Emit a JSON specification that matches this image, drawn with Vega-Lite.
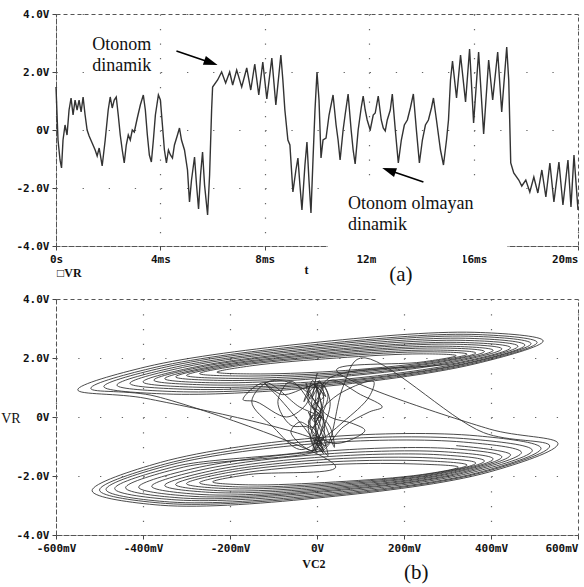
{
"$schema": "https://vega.github.io/schema/vega-lite/v6.json",
"background": "white",
"padding": {"left": 0, "top": 7, "right": 0, "bottom": 0},
"bounds": "flush",
"spacing": 53,
"config": {
  "view": {"stroke": "#555", "strokeDash": [4, 3], "strokeWidth": 1},
  "axis": {
    "labelFont": "DejaVu Sans Mono", "labelFontWeight": "bold", "labelFontSize": 11, "labelColor": "#111",
    "domainColor": "#555", "domainDash": [4, 3], "tickColor": "#444", "tickSize": 4, "labelPadding": 3,
    "grid": true, "gridColor": "#666", "gridWidth": 1.2, "labelOverlap": false, "title": null
  }
},
"datasets": {
  "vr": [
{"t":0,"v":1.483},{"t":0.077,"v":-0.345},{"t":0.154,"v":-1.034},{"t":0.212,"v":-1.31},{"t":0.269,"v":-0.345},{"t":0.346,"v":0.172},{"t":0.423,"v":-0.172},{"t":0.5,"v":0.69},{"t":0.577,"v":1.103},{"t":0.654,"v":0.517},{"t":0.731,"v":1.034},{"t":0.808,"v":0.69},{"t":0.885,"v":1.034},{"t":0.962,"v":0.621},{"t":1.038,"v":1.138},{"t":1.115,"v":0.517},{"t":1.192,"v":0},{"t":1.269,"v":-0.207},{"t":1.385,"v":-0.448},{"t":1.5,"v":-0.69},{"t":1.577,"v":-0.897},{"t":1.654,"v":-0.621},{"t":1.769,"v":-1.241},{"t":1.885,"v":-0.345},{"t":2.0,"v":0.69},{"t":2.077,"v":1.138},{"t":2.154,"v":0.759},{"t":2.231,"v":1.034},{"t":2.308,"v":1.138},{"t":2.385,"v":0.517},{"t":2.462,"v":-0.172},{"t":2.538,"v":-0.69},{"t":2.615,"v":-1.138},{"t":2.692,"v":-0.517},{"t":2.769,"v":-0.172},{"t":2.846,"v":-0.345},{"t":2.923,"v":0},{"t":3.0,"v":-0.069},{"t":3.115,"v":0.414},{"t":3.231,"v":0.862},{"t":3.346,"v":1.207},{"t":3.423,"v":0.69},{"t":3.5,"v":-0.172},{"t":3.577,"v":-0.862},{"t":3.654,"v":-1.103},{"t":3.731,"v":-0.345},{"t":3.808,"v":0.517},{"t":3.923,"v":1.207},{"t":4.0,"v":1.034},{"t":4.077,"v":0.172},{"t":4.154,"v":-0.69},{"t":4.231,"v":-1.138},{"t":4.308,"v":-0.69},{"t":4.385,"v":-0.862},{"t":4.462,"v":-0.966},{"t":4.538,"v":-0.517},{"t":4.654,"v":-0.172},{"t":4.731,"v":0.069},{"t":4.808,"v":-0.345},{"t":4.923,"v":-0.69},{"t":5.038,"v":-1.379},{"t":5.115,"v":-2.483},{"t":5.192,"v":-1.724},{"t":5.308,"v":-0.931},{"t":5.385,"v":-1.897},{"t":5.462,"v":-2.724},{"t":5.538,"v":-1.552},{"t":5.615,"v":-0.759},{"t":5.692,"v":-1.897},{"t":5.808,"v":-2.931},{"t":5.885,"v":-1.552},{"t":5.962,"v":0.69},{"t":6.0,"v":1.483},{"t":6.192,"v":1.724},{"t":6.346,"v":2.0},{"t":6.5,"v":1.621},{"t":6.654,"v":2.0},{"t":6.769,"v":1.552},{"t":6.923,"v":2.069},{"t":7.115,"v":1.483},{"t":7.308,"v":2.138},{"t":7.462,"v":1.379},{"t":7.615,"v":2.276},{"t":7.769,"v":1.207},{"t":7.923,"v":2.345},{"t":8.077,"v":1.069},{"t":8.269,"v":2.483},{"t":8.423,"v":0.862},{"t":8.615,"v":2.586},{"t":8.692,"v":1.724},{"t":8.769,"v":0.69},{"t":8.885,"v":-0.345},{"t":8.962,"v":-0.517},{"t":9.077,"v":-2.138},{"t":9.192,"v":-1.379},{"t":9.269,"v":-0.966},{"t":9.346,"v":-1.897},{"t":9.423,"v":-2.759},{"t":9.538,"v":-1.207},{"t":9.615,"v":-0.414},{"t":9.692,"v":-1.724},{"t":9.769,"v":-2.862},{"t":9.846,"v":-1.034},{"t":9.923,"v":0.69},{"t":10.0,"v":2.0},{"t":10.077,"v":1.034},{"t":10.154,"v":-0.966},{"t":10.231,"v":-0.345},{"t":10.346,"v":-0.276},{"t":10.462,"v":0.517},{"t":10.615,"v":1.207},{"t":10.731,"v":0.172},{"t":10.808,"v":-0.345},{"t":10.885,"v":-1.034},{"t":11.0,"v":0},{"t":11.077,"v":0.517},{"t":11.192,"v":1.241},{"t":11.308,"v":0},{"t":11.385,"v":-0.69},{"t":11.462,"v":-1.172},{"t":11.577,"v":0},{"t":11.692,"v":0.759},{"t":11.769,"v":1.172},{"t":11.846,"v":0.69},{"t":11.923,"v":0.345},{"t":12.038,"v":0},{"t":12.154,"v":0.517},{"t":12.231,"v":0.586},{"t":12.346,"v":1.172},{"t":12.462,"v":0.345},{"t":12.538,"v":0.069},{"t":12.615,"v":-0.034},{"t":12.692,"v":0.345},{"t":12.808,"v":0.69},{"t":12.885,"v":1.241},{"t":13.0,"v":0},{"t":13.115,"v":-1.138},{"t":13.231,"v":-0.345},{"t":13.346,"v":0.172},{"t":13.462,"v":0.345},{"t":13.577,"v":0.759},{"t":13.692,"v":1.241},{"t":13.808,"v":0},{"t":13.923,"v":-1.138},{"t":14.038,"v":-0.345},{"t":14.154,"v":0.172},{"t":14.269,"v":0.345},{"t":14.385,"v":0.759},{"t":14.462,"v":1.103},{"t":14.577,"v":0.345},{"t":14.731,"v":-0.69},{"t":14.846,"v":-1.207},{"t":14.962,"v":-0.345},{"t":15.038,"v":0.345},{"t":15.115,"v":1.724},{"t":15.192,"v":2.379},{"t":15.346,"v":1.103},{"t":15.5,"v":2.586},{"t":15.692,"v":0.966},{"t":15.846,"v":2.793},{"t":16.0,"v":0.241},{"t":16.192,"v":2.69},{"t":16.385,"v":-0.138},{"t":16.577,"v":2.414},{"t":16.731,"v":1.034},{"t":16.923,"v":2.69},{"t":17.077,"v":0.621},{"t":17.269,"v":2.862},{"t":17.346,"v":1.724},{"t":17.423,"v":-1.138},{"t":17.538,"v":-1.483},{"t":17.731,"v":-1.724},{"t":17.846,"v":-1.931},{"t":18.0,"v":-1.724},{"t":18.154,"v":-2.138},{"t":18.308,"v":-1.621},{"t":18.462,"v":-2.172},{"t":18.615,"v":-1.379},{"t":18.769,"v":-2.31},{"t":18.923,"v":-1.138},{"t":19.077,"v":-2.483},{"t":19.269,"v":-1.103},{"t":19.423,"v":-2.586},{"t":19.615,"v":-1.034},{"t":19.731,"v":-2.655},{"t":19.846,"v":-0.862},{"t":20.0,"v":-2.759}
  ],
  "ph": [
{"c":0,"r":1.48},{"c":-15,"r":-0.35},{"c":10,"r":-1.03},{"c":25,"r":-1.31},{"c":5,"r":-0.35},{"c":-20,"r":0.17},{"c":-5,"r":-0.17},{"c":15,"r":0.69},{"c":-10,"r":1.1},{"c":-30,"r":0.52},{"c":-5,"r":1.03},{"c":20,"r":0.69},{"c":5,"r":1.03},{"c":-15,"r":0.62},{"c":-25,"r":1.14},{"c":-5,"r":0.52},{"c":30,"r":0},{"c":80,"r":-0.21},{"c":110,"r":-0.45},{"c":90,"r":-0.69},{"c":40,"r":-0.9},{"c":-10,"r":-0.62},{"c":15,"r":-1.24},{"c":-30,"r":-0.35},{"c":-90,"r":0.69},{"c":-120,"r":1.14},{"c":-80,"r":0.76},{"c":-20,"r":1.03},{"c":10,"r":1.14},{"c":30,"r":0.52},{"c":20,"r":-0.17},{"c":5,"r":-0.69},{"c":-10,"r":-1.14},{"c":-60,"r":-0.52},{"c":-40,"r":-0.17},{"c":-10,"r":-0.35},{"c":10,"r":0},{"c":-5,"r":-0.07},{"c":20,"r":0.41},{"c":60,"r":0.86},{"c":130,"r":1.21},{"c":120,"r":0.69},{"c":60,"r":-0.17},{"c":0,"r":-0.86},{"c":-40,"r":-1.1},{"c":-100,"r":-0.35},{"c":-150,"r":0.52},{"c":-110,"r":1.21},{"c":-40,"r":1.03},{"c":10,"r":0.17},{"c":15,"r":-0.69},{"c":-5,"r":-1.14},{"c":12,"r":-0.69},{"c":-8,"r":-0.86},{"c":10,"r":-0.97},{"c":0,"r":-0.52},{"c":-20,"r":-0.17},{"c":-5,"r":0.07},{"c":10,"r":-0.35},{"c":20,"r":-0.69},
{"c":15,"r":-1.06},{"c":-307,"r":-1.7},{"c":-440,"r":-2.4},{"c":-307,"r":-2.75},{"c":15,"r":-2.54},{"c":337,"r":-1.9},{"c":470,"r":-1.2},{"c":337,"r":-0.85},
{"c":15,"r":-0.88},{"c":-339,"r":-1.63},{"c":-485,"r":-2.46},{"c":-339,"r":-2.88},{"c":15,"r":-2.64},{"c":369,"r":-1.89},{"c":515,"r":-1.06},{"c":369,"r":-0.64},
{"c":19,"r":-0.68},{"c":-360,"r":-1.54},{"c":-517,"r":-2.5},{"c":-360,"r":-2.99},{"c":19,"r":-2.72},{"c":397,"r":-1.86},{"c":554,"r":-0.9},{"c":397,"r":-0.41},
{"c":45,"r":1.6},{"c":239,"r":1.86},{"c":320,"r":2.08},{"c":239,"r":2.14},{"c":45,"r":2.0},{"c":-149,"r":1.74},{"c":-230,"r":1.52},{"c":-149,"r":1.46},
{"c":38,"r":1.55},{"c":255,"r":1.86},{"c":345,"r":2.13},{"c":255,"r":2.21},{"c":38,"r":2.05},{"c":-180,"r":1.74},{"c":-270,"r":1.47},{"c":-180,"r":1.39},
{"c":33,"r":1.49},{"c":268,"r":1.85},{"c":365,"r":2.17},{"c":268,"r":2.27},{"c":33,"r":2.09},{"c":-203,"r":1.73},{"c":-300,"r":1.41},{"c":-203,"r":1.31},
{"c":30,"r":1.44},{"c":281,"r":1.85},{"c":385,"r":2.22},{"c":281,"r":2.34},{"c":30,"r":2.14},{"c":-221,"r":1.73},{"c":-325,"r":1.36},{"c":-221,"r":1.24},
{"c":28,"r":1.38},{"c":294,"r":1.84},{"c":405,"r":2.26},{"c":294,"r":2.4},{"c":28,"r":2.18},{"c":-239,"r":1.72},{"c":-350,"r":1.3},{"c":-239,"r":1.16},
{"c":25,"r":1.33},{"c":308,"r":1.84},{"c":425,"r":2.31},{"c":308,"r":2.47},{"c":25,"r":2.23},{"c":-258,"r":1.72},{"c":-375,"r":1.25},{"c":-258,"r":1.09},
{"c":16,"r":1.22},{"c":331,"r":1.83},{"c":462,"r":2.4},{"c":331,"r":2.6},{"c":16,"r":2.32},{"c":-299,"r":1.71},{"c":-430,"r":1.14},{"c":-299,"r":0.94},
{"c":1,"r":1.11},{"c":348,"r":1.82},{"c":492,"r":2.49},{"c":348,"r":2.74},{"c":1,"r":2.41},{"c":-346,"r":1.7},{"c":-490,"r":1.03},{"c":-346,"r":0.78},
{"c":-15,"r":0.99},{"c":363,"r":1.8},{"c":520,"r":2.58},{"c":363,"r":2.87},{"c":-15,"r":2.51},{"c":-393,"r":1.7},{"c":-550,"r":0.92},{"c":-393,"r":0.63},
{"c":15,"r":-0.97},{"c":-324,"r":-1.67},{"c":-465,"r":-2.43},{"c":-324,"r":-2.81},{"c":15,"r":-2.59},{"c":354,"r":-1.89},{"c":495,"r":-1.13},{"c":354,"r":-0.75},
{"c":18,"r":-0.78},{"c":-348,"r":-1.59},{"c":-500,"r":-2.48},{"c":-348,"r":-2.93},{"c":18,"r":-2.68},{"c":383,"r":-1.87},{"c":535,"r":-0.98},{"c":383,"r":-0.53},
{"c":100,"r":2.0},{"c":60,"r":1.03},{"c":20,"r":-0.97},{"c":-20,"r":-0.35},{"c":-60,"r":-0.28},{"c":-90,"r":0.52},{"c":-60,"r":1.21},{"c":0,"r":0.17},{"c":30,"r":-0.34},{"c":40,"r":-1.03},{"c":10,"r":0},{"c":-20,"r":0.52},{"c":-10,"r":1.24},{"c":15,"r":0},{"c":5,"r":-0.69},{"c":-10,"r":-1.17},{"c":10,"r":0},{"c":25,"r":0.76},{"c":5,"r":1.17},{"c":-15,"r":0.69},{"c":-30,"r":0.34},{"c":-70,"r":0},{"c":-140,"r":0.52},{"c":-170,"r":0.59},{"c":-120,"r":1.17},{"c":-40,"r":0.34},{"c":0,"r":0.07},{"c":10,"r":-0.03},{"c":-10,"r":0.34},{"c":15,"r":0.69},{"c":5,"r":1.24},{"c":-5,"r":0},{"c":10,"r":-1.14},{"c":60,"r":-0.34},{"c":120,"r":0.17},{"c":150,"r":0.34},{"c":100,"r":0.76},{"c":30,"r":1.24},{"c":-5,"r":0},{"c":15,"r":-1.14},{"c":-5,"r":-0.34},{"c":8,"r":0.17},{"c":-10,"r":0.34},{"c":5,"r":0.76},{"c":-5,"r":1.1},{"c":10,"r":0.34},{"c":-15,"r":-0.69},{"c":0,"r":-1.21},{"c":-20,"r":-0.34},{"c":0,"r":0.34},
{"c":23,"r":1.27},{"c":321,"r":1.83},{"c":445,"r":2.35},{"c":321,"r":2.53},{"c":23,"r":2.27},{"c":-276,"r":1.71},{"c":-400,"r":1.19},{"c":-276,"r":1.01},
{"c":9,"r":1.16},{"c":341,"r":1.82},{"c":478,"r":2.44},{"c":341,"r":2.67},{"c":9,"r":2.36},{"c":-323,"r":1.7},{"c":-460,"r":1.08},{"c":-323,"r":0.86},
{"c":-7,"r":1.05},{"c":356,"r":1.81},{"c":506,"r":2.53},{"c":356,"r":2.8},{"c":-7,"r":2.45},{"c":-370,"r":1.69},{"c":-520,"r":0.97},{"c":-370,"r":0.7},
{"c":43,"r":-1.7},{"c":-157,"r":-1.95},{"c":-240,"r":-2.2},{"c":-157,"r":-2.3},{"c":43,"r":-2.2},{"c":242,"r":-1.95},{"c":325,"r":-1.7},{"c":242,"r":-1.6},
{"c":38,"r":-1.61},{"c":-180,"r":-1.92},{"c":-270,"r":-2.23},{"c":-180,"r":-2.37},{"c":38,"r":-2.25},{"c":255,"r":-1.94},{"c":345,"r":-1.63},{"c":255,"r":-1.49},
{"c":33,"r":-1.52},{"c":-203,"r":-1.88},{"c":-300,"r":-2.26},{"c":-203,"r":-2.43},{"c":33,"r":-2.3},{"c":268,"r":-1.94},{"c":365,"r":-1.56},{"c":268,"r":-1.39},
{"c":30,"r":-1.43},{"c":-221,"r":-1.85},{"c":-325,"r":-2.29},{"c":-221,"r":-2.5},{"c":30,"r":-2.35},{"c":281,"r":-1.93},{"c":385,"r":-1.49},{"c":281,"r":-1.28},
{"c":28,"r":-1.34},{"c":-239,"r":-1.81},{"c":-350,"r":-2.32},{"c":-239,"r":-2.56},{"c":28,"r":-2.4},{"c":294,"r":-1.93},{"c":405,"r":-1.42},{"c":294,"r":-1.18},
{"c":23,"r":-1.25},{"c":-262,"r":-1.78},{"c":-380,"r":-2.35},{"c":-262,"r":-2.63},{"c":23,"r":-2.45},{"c":307,"r":-1.92},{"c":425,"r":-1.35},{"c":307,"r":-1.07},
{"c":18,"r":-1.16},{"c":-285,"r":-1.75},{"c":-410,"r":-2.38},{"c":-285,"r":-2.69},{"c":18,"r":-2.5},{"c":320,"r":-1.92},{"c":445,"r":-1.28},{"c":320,"r":-0.97}
  ]
},
"vconcat": [
  {
    "width": 522, "height": 232,
    "layer": [
      {
        "data": {"name": "vr"},
        "mark": {"type": "line", "color": "#333", "strokeWidth": 1.4},
        "encoding": {
          "x": {"field": "t", "type": "quantitative", "scale": {"domain": [0, 20], "nice": false, "zero": false},
            "axis": {"values": [0, 4, 8, 12, 16, 20], "labelExpr": "datum.value == 0 ? '0s' : datum.value + 'ms'",
              "labelAlign": {"condition": {"test": "datum.value == 20", "value": "right"}, "value": "center"},
              "gridDash": [1.3, 13.2]}},
          "y": {"field": "v", "type": "quantitative", "scale": {"domain": [-4, 4], "nice": false, "zero": false},
            "axis": {"values": [-4, -2, 0, 2, 4], "labelExpr": "datum.value == 0 ? '0V' : (datum.value < 0 ? '-' : '') + format(abs(datum.value), '.1f') + 'V'",
              "gridDash": [1.3, 24.8]}}
        }
      },
      {
        "data": {"values": [{"t": 1.19, "t2": 3.96, "v": 3.45, "v2": 1.79}, {"t": 10.42, "t2": 17.3, "v": -1.59, "v2": -4.17}]},
        "mark": {"type": "rect", "color": "white"},
        "encoding": {"x": {"field": "t", "type": "quantitative"}, "x2": {"field": "t2"}, "y": {"field": "v", "type": "quantitative"}, "y2": {"field": "v2"}}
      },
      {
        "data": {"values": [{"t": 1.385, "v": 2.76, "s": "Otonom"}, {"t": 1.385, "v": 2.03, "s": "dinamik"}, {"t": 11.19, "v": -2.73, "s": "Otonom olmayan"}, {"t": 11.19, "v": -3.45, "s": "dinamik"}]},
        "mark": {"type": "text", "font": "Liberation Serif", "fontSize": 18, "align": "left", "baseline": "alphabetic", "color": "#111"},
        "encoding": {"x": {"field": "t", "type": "quantitative"}, "y": {"field": "v", "type": "quantitative"}, "text": {"field": "s"}}
      },
      {
        "data": {"values": [{"t": 0.04, "v": -5.08, "s": "□VR"}]},
        "mark": {"type": "text", "font": "Liberation Serif", "fontWeight": "bold", "fontSize": 12, "align": "left", "baseline": "alphabetic", "color": "#111"},
        "encoding": {"x": {"field": "t", "type": "quantitative"}, "y": {"field": "v", "type": "quantitative"}, "text": {"field": "s"}}
      },
      {
        "data": {"values": [{"t": 9.6, "v": -4.95, "s": "t"}]},
        "mark": {"type": "text", "font": "Liberation Serif", "fontWeight": "bold", "fontSize": 12, "align": "center", "baseline": "alphabetic", "color": "#111"},
        "encoding": {"x": {"field": "t", "type": "quantitative"}, "y": {"field": "v", "type": "quantitative"}, "text": {"field": "s"}}
      },
      {
        "data": {"values": [{"t": 4.615, "v": 2.724, "t2": 5.938, "v2": 2.321}, {"t": 14.077, "v": -1.793, "t2": 12.754, "v2": -1.39}]},
        "mark": {"type": "rule", "color": "#000", "strokeWidth": 1.6},
        "encoding": {"x": {"field": "t", "type": "quantitative"}, "x2": {"field": "t2"}, "y": {"field": "v", "type": "quantitative"}, "y2": {"field": "v2"}}
      },
      {
        "data": {"values": [{"t": 5.938, "v": 2.321}]},
        "mark": {"type": "point", "shape": "M1,0L-1,-0.65L-1,0.65Z", "filled": true, "color": "#000", "opacity": 1, "size": 196, "angle": 19},
        "encoding": {"x": {"field": "t", "type": "quantitative"}, "y": {"field": "v", "type": "quantitative"}}
      },
      {
        "data": {"values": [{"t": 12.754, "v": -1.39}]},
        "mark": {"type": "point", "shape": "M1,0L-1,-0.65L-1,0.65Z", "filled": true, "color": "#000", "opacity": 1, "size": 196, "angle": 199},
        "encoding": {"x": {"field": "t", "type": "quantitative"}, "y": {"field": "v", "type": "quantitative"}}
      }
    ]
  },
  {
    "width": 522, "height": 236,
    "layer": [
      {
        "data": {"name": "ph"},
        "mark": {"type": "line", "color": "#2a2a2a", "strokeWidth": 0.85, "interpolate": "catmull-rom"},
        "encoding": {
          "x": {"field": "c", "type": "quantitative", "scale": {"domain": [-600, 600], "nice": false, "zero": false},
            "axis": {"values": [-600, -400, -200, 0, 200, 400, 600], "labelExpr": "datum.value == 0 ? '0V' : datum.value + 'mV'",
              "labelAlign": {"condition": {"test": "datum.value == 600", "value": "right"}, "value": "center"},
              "gridDash": [1.3, 13.45]}},
          "y": {"field": "r", "type": "quantitative", "scale": {"domain": [-4, 4], "nice": false, "zero": false},
            "axis": {"values": [-4, -2, 0, 2, 4], "labelExpr": "datum.value == 0 ? '0V' : (datum.value < 0 ? '-' : '') + format(abs(datum.value), '.1f') + 'V'",
              "gridDash": [1.3, 20.45]}},
          "order": {"value": null}
        }
      },
      {
        "data": {"values": [{"c": 137, "c2": 336, "r": 3.93, "r2": 5.63}]},
        "mark": {"type": "rect", "color": "white"},
        "encoding": {"x": {"field": "c", "type": "quantitative"}, "x2": {"field": "c2"}, "y": {"field": "r", "type": "quantitative"}, "y2": {"field": "r2"}}
      },
      {
        "data": {"values": [{"c": 193, "r": 4.61, "s": "(a)"}, {"c": 228, "r": -5.49, "s": "(b)"}]},
        "mark": {"type": "text", "font": "Liberation Serif", "fontSize": 21, "align": "center", "baseline": "alphabetic", "color": "#111"},
        "encoding": {"x": {"field": "c", "type": "quantitative"}, "y": {"field": "r", "type": "quantitative"}, "text": {"field": "s"}}
      },
      {
        "data": {"values": [{"c": -7, "r": -5.12, "s": "VC2"}]},
        "mark": {"type": "text", "font": "Liberation Serif", "fontWeight": "bold", "fontSize": 12, "align": "center", "baseline": "alphabetic", "color": "#111"},
        "encoding": {"x": {"field": "c", "type": "quantitative"}, "y": {"field": "r", "type": "quantitative"}, "text": {"field": "s"}}
      },
      {
        "data": {"values": [{"c": -726, "r": -0.2, "s": "VR"}]},
        "mark": {"type": "text", "font": "Liberation Serif", "fontSize": 14, "align": "left", "baseline": "alphabetic", "color": "#111"},
        "encoding": {"x": {"field": "c", "type": "quantitative"}, "y": {"field": "r", "type": "quantitative"}, "text": {"field": "s"}}
      }
    ]
  }
]
}
